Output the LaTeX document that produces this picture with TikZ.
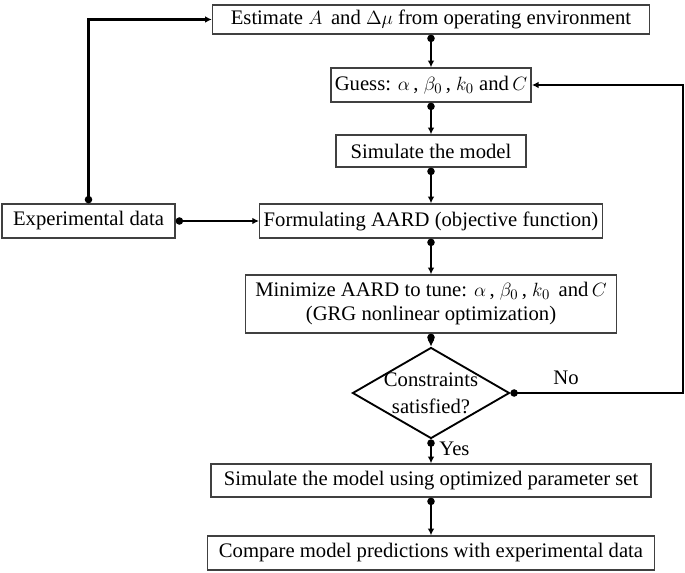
\documentclass[tikz,border=0pt]{standalone}
\usepackage{fontspec}
\setmainfont{Liberation Serif}
\usetikzlibrary{shapes.geometric,arrows.meta}

\begin{document}
\begin{tikzpicture}[x=0.75pt,y=-0.75pt,
    font=\fontsize{15.5}{18}\selectfont,
    box/.style={draw=black!75,line width=1.1pt,inner xsep=3pt,inner ysep=0pt,align=center},
    decision/.style={draw,line width=1.4pt,shape=diamond,inner sep=0pt},
    flow/.style={line width=2pt,{Circle[length=5.5pt]}-{Latex[length=5pt,width=5pt]}}]
      \useasboundingbox (0,0) rectangle (685,573) ;
      \node[box,minimum width=327.75pt,minimum height=21.75pt] %
      (est) at (431,19.5) {Estimate $A$\, and $\Delta\mu$ from operating environment} ;
      \node[box,minimum width=148.5pt,minimum height=25.5pt] %
      (guess) at (431,85) {Guess: $\alpha$\,, $\beta_0$\,, $k_0$ and\,$C$} ;
      \node[box,minimum width=142.5pt,minimum height=24pt] %
      (sim) at (431,151) {Simulate the model} ;
      \node[box,minimum width=129.75pt,minimum height=25.5pt] %
      (exp) at (88.5,221) {Experimental data} ;
      \node[box,minimum width=255pt,minimum height=25.5pt] %
      (aard) at (431,221) {Formulating AARD (objective function)} ;
      \node[box,minimum width=278.25pt,minimum height=43.5pt] %
      (mini) at (431,304) {Minimize AARD to tune: $\alpha$\,, $\beta_0$\,, $k_0$\, and\,$C$\\(GRG nonlinear optimization)} ;
      \node[decision,minimum width=117.75pt,minimum height=68.25pt] %
      (cons) at (431,393) {} ;
      \node[align=center,inner sep=0pt,font=\fontsize{15.5}{20}\selectfont] (constxt) at (cons) {Constraints\\satisfied?} ;
      \node[box,minimum width=330pt,minimum height=24.75pt] %
      (simopt) at (431,480.5) {Simulate the model using optimized parameter set} ;
      \node[box,minimum width=335.25pt,minimum height=25.5pt] %
      (comp) at (431,553) {Compare model predictions with experimental data} ;
      \coordinate (back) at (683,393) ;
      \draw[flow] (est) -- (guess) ;
      \draw[flow] (guess) -- (sim) ;
      \draw[flow] (sim) -- (aard) ;
      \draw[flow] (aard) -- (mini) ;
      \draw[flow] (mini) -- (cons) ;
      \draw[flow] (cons) -- (simopt) node[pos=0.4,right,xshift=2pt]{Yes} ;
      \draw[flow] (simopt) -- (comp) ;
      \draw[flow] (exp.east) -- (aard.west) ;
      \draw[flow] (exp.north) |- (est.west) ;
      \draw[flow] (cons.east) -- (back) |- (guess.east) ;
      \node (no) at (566,378) {No} ;
    \end{tikzpicture}
\end{document}
